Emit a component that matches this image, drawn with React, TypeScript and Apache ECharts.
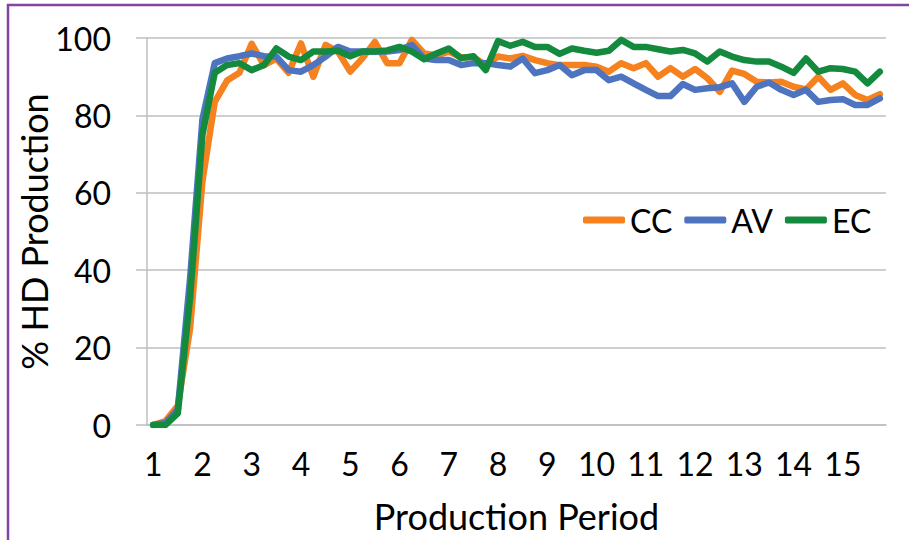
import React, { useEffect, useRef } from 'react';
import * as echarts from 'echarts';

// 15 production periods, 4 readings each
const periods = [1, 2, 3, 4, 5, 6, 7, 8, 9, 10, 11, 12, 13, 14, 15];
const readingsPerPeriod = ['1', '2', '3', '4'];
const categories = periods.flatMap(p => readingsPerPeriod.map(r => `${p}-${r}`));

const ccValues = [
    0, 1, 5, 25, 63, 83.5, 89, 91, 98.5, 93,
    94.7, 91, 98.6, 90, 98.2, 96.5, 91.3, 94.8, 99, 93.5,
    93.5, 99.5, 96, 95.5, 96.5, 95, 95, 93, 95.2, 94.7,
    95.4, 94.3, 93.5, 93, 93, 93, 92.6, 91.3, 93.5, 92.2,
    93.5, 90, 92.2, 90, 92, 89.6, 86.1, 91.6, 90.7, 88.7,
    88.5, 88.7, 87.4, 86.7, 90, 86.6, 88.3, 85.3, 84, 85.5
];

const avValues = [
    0, 0.5, 4, 38, 79, 93.5, 94.7, 95.3, 96, 95.3,
    95.2, 91.7, 91.3, 93, 95.2, 97.7, 96.5, 96.5, 96.5, 96.5,
    96.9, 98.2, 94.7, 94.3, 94.3, 93, 93.5, 93.5, 93, 92.6,
    94.7, 90.9, 91.7, 93, 90.4, 91.7, 91.7, 89.1, 90, 88.3,
    86.6, 85, 85, 88.1, 86.6, 87, 87.3, 88.3, 83.5, 87.4,
    88.5, 86.6, 85.3, 86.6, 83.5, 84, 84.2, 82.7, 82.7, 84.4
];

const ecValues = [
    0, 0, 3, 33, 75, 91, 93, 93.5, 91.7, 93,
    97.3, 95.2, 94.3, 96.5, 96.5, 96.7, 95.3, 96.5, 96.5, 96.8,
    97.7, 96.5, 94.5, 96, 97.3, 94.8, 95.3, 91.7, 99.2, 98,
    99, 97.7, 97.7, 95.9, 97.3, 96.7, 96.2, 96.7, 99.5, 97.7,
    97.7, 97.1, 96.5, 96.9, 96, 93.9, 96.5, 95.2, 94.3, 93.9,
    93.9, 92.6, 91, 94.7, 91.3, 92.2, 92, 91.3, 88.3, 91.3
];

const seriesNames = ['CC', 'AV', 'EC'];
const seriesColors = ['#F5821F', '#4E74BF', '#148A3E'];

const FONT = 'Lato';
const GRID_COLOR = '#BFBFBF';

const App: React.FC = () => {
    const chartRef = useRef<HTMLDivElement>(null);

    useEffect(() => {
        document.body.style.margin = '0';
        if (!chartRef.current) return;

        const chart = echarts.init(chartRef.current, null, { renderer: 'svg' });

        const values = [ccValues, avValues, ecValues];

        const option = {
            animation: false,
            backgroundColor: '#fff',
            grid: { left: 147, right: 23, top: 38, bottom: 115 },
            legend: {
                data: seriesNames,
                left: 578,
                top: 199,
                icon: 'roundRect',
                itemWidth: 42,
                itemHeight: 7,
                itemGap: 12,
                textStyle: { fontFamily: FONT, fontSize: 32, color: '#000' }
            },
            xAxis: {
                type: 'category',
                data: categories,
                boundaryGap: true,
                name: 'Production Period',
                nameLocation: 'middle',
                nameGap: 73,
                nameMoveOverlap: false,
                nameTextStyle: { fontFamily: FONT, fontSize: 36, color: '#000' },
                axisLine: { lineStyle: { color: GRID_COLOR, width: 1.5 } },
                axisTick: { interval: 3, length: 12, lineStyle: { color: GRID_COLOR, width: 1.5 } },
                axisLabel: {
                    interval: 3,
                    margin: 22,
                    fontFamily: FONT,
                    fontSize: 32,
                    color: '#000',
                    formatter: (v: string) => v.split('-')[0]
                },
                splitLine: { show: false }
            },
            yAxis: {
                type: 'value',
                min: 0,
                max: 100,
                interval: 20,
                name: '% HD Production',
                nameLocation: 'middle',
                nameGap: 95,
                nameMoveOverlap: false,
                nameTextStyle: { fontFamily: FONT, fontSize: 36, color: '#000' },
                axisLine: { show: true, lineStyle: { color: GRID_COLOR, width: 1.5 } },
                axisTick: { show: true, length: 11, lineStyle: { color: GRID_COLOR, width: 1.5 } },
                axisLabel: { margin: 36, fontFamily: FONT, fontSize: 32, color: '#000' },
                splitLine: { lineStyle: { color: GRID_COLOR, width: 1.5 } }
            },
            series: seriesNames.map((name, i) => ({
                name,
                type: 'line',
                data: values[i],
                showSymbol: false,
                color: seriesColors[i],
                lineStyle: { width: 6.5, color: seriesColors[i], cap: 'round', join: 'round' }
            })),
            graphic: [
                {
                    type: 'line',
                    shape: { x1: 7, y1: 5, x2: 909, y2: 5 },
                    style: { stroke: '#8246A0', lineWidth: 2.5 }
                },
                {
                    type: 'line',
                    shape: { x1: 8, y1: 4, x2: 8, y2: 540 },
                    style: { stroke: '#8246A0', lineWidth: 2.5 }
                }
            ]
        };

        chart.setOption(option);

        return () => {
            chart.dispose();
        };
    }, []);

    return <div ref={chartRef} style={{ width: 909, height: 540 }} />;
};

export default App;
